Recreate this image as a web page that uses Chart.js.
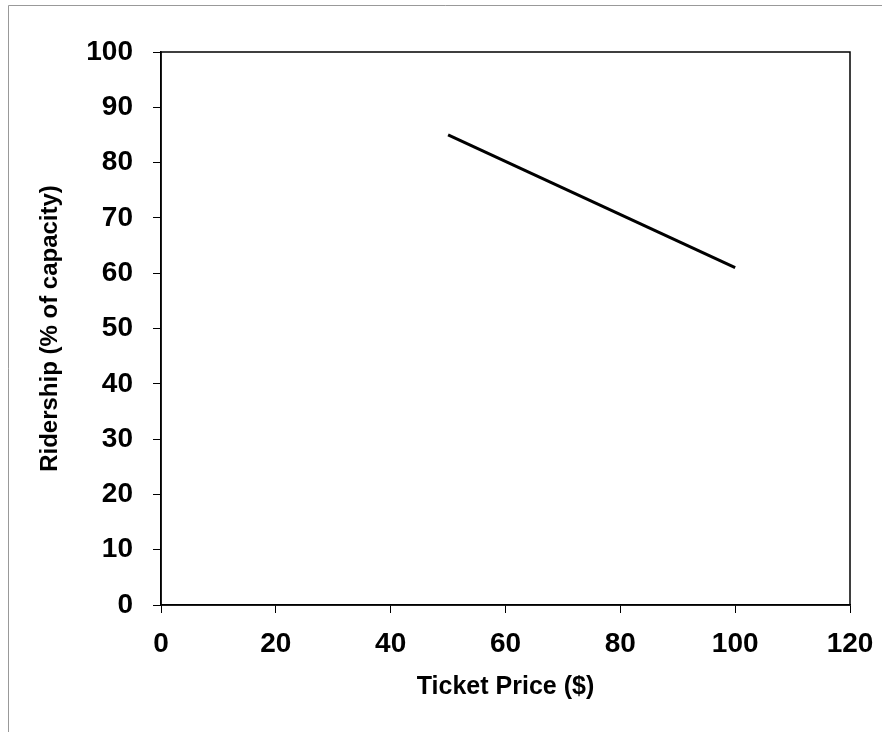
<!DOCTYPE html>
<html>
<head>
<meta charset="utf-8">
<script src="https://cdn.jsdelivr.net/npm/chart.js@4"></script>
<style>
  body { margin: 0; background: #fff; }
  #wrap { width: 882px; height: 732px; position: relative; }
</style>
</head>
<body>
<div id="wrap"><canvas id="chart" width="882" height="732"></canvas></div>
<script>
// Data
var priceValues = [50, 100];
var ridershipValues = [85, 61];
var xTicks = [0, 20, 40, 60, 80, 100, 120];
var yTicks = [0, 10, 20, 30, 40, 50, 60, 70, 80, 90, 100];

var points = priceValues.map(function (p, i) {
  return { x: p, y: ridershipValues[i] };
});

// Frame around the page and box around the plot area
var framePlugin = {
  id: "frame",
  beforeDraw: function (chart) {
    var ctx = chart.ctx;
    ctx.save();
    ctx.fillStyle = "#fff";
    ctx.fillRect(0, 0, chart.width, chart.height);
    ctx.strokeStyle = "#999";
    ctx.lineWidth = 1;
    ctx.beginPath();
    ctx.moveTo(8.5, chart.height);
    ctx.lineTo(8.5, 5.5);
    ctx.lineTo(chart.width, 5.5);
    ctx.stroke();
    ctx.restore();
  },
  afterDatasetsDraw: function (chart) {
    var a = chart.chartArea;
    var ctx = chart.ctx;
    ctx.save();
    ctx.strokeStyle = "#000";
    ctx.lineWidth = 1.5;
    ctx.strokeRect(a.left, a.top, a.right - a.left, a.bottom - a.top);
    ctx.restore();
  }
};

var tickFont = { family: "'Liberation Sans', Arial, sans-serif", size: 28, weight: "bold" };

new Chart(document.getElementById("chart").getContext("2d"), {
  type: "scatter",
  data: {
    datasets: [
      {
        data: points,
        showLine: true,
        borderColor: "#000",
        borderWidth: 3,
        pointRadius: 0,
        fill: false
      }
    ]
  },
  options: {
    responsive: false,
    animation: false,
    layout: { padding: { left: 10, right: 32, top: 52, bottom: 10 } },
    plugins: { legend: { display: false }, tooltip: { enabled: false } },
    scales: {
      x: {
        type: "linear",
        min: 0,
        max: 120,
        afterBuildTicks: function (scale) {
          scale.ticks = xTicks.map(function (v) { return { value: v }; });
        },
        afterFit: function (scale) {
          scale.height = 732 - 605 - 10;
          scale.paddingLeft = 0;
          scale.paddingRight = 0;
        },
        grid: { drawOnChartArea: false, drawTicks: true, tickLength: 8, color: "#000" },
        border: { color: "#000", width: 1.5 },
        ticks: { color: "#000", font: tickFont, padding: 14, maxRotation: 0 },
        title: {
          display: true,
          text: "Ticket Price ($)",
          color: "#000",
          font: { family: "'Liberation Sans', Arial, sans-serif", size: 25, weight: "bold" },
          padding: { top: 0, bottom: 20 }
        }
      },
      y: {
        type: "linear",
        min: 0,
        max: 100,
        afterBuildTicks: function (scale) {
          scale.ticks = yTicks.map(function (v) { return { value: v }; });
        },
        afterFit: function (scale) {
          scale.width = 161 - 10;
          scale.paddingTop = 0;
          scale.paddingBottom = 0;
        },
        grid: { drawOnChartArea: false, drawTicks: true, tickLength: 8, color: "#000" },
        border: { color: "#000", width: 1.5 },
        ticks: { color: "#000", font: tickFont, padding: 20 },
        title: {
          display: true,
          text: "Ridership (% of capacity)",
          color: "#000",
          font: { family: "'Liberation Sans', Arial, sans-serif", size: 24, weight: "bold" },
          padding: { top: 26, bottom: 0 }
        }
      }
    }
  },
  plugins: [framePlugin]
});
</script>
</body>
</html>
